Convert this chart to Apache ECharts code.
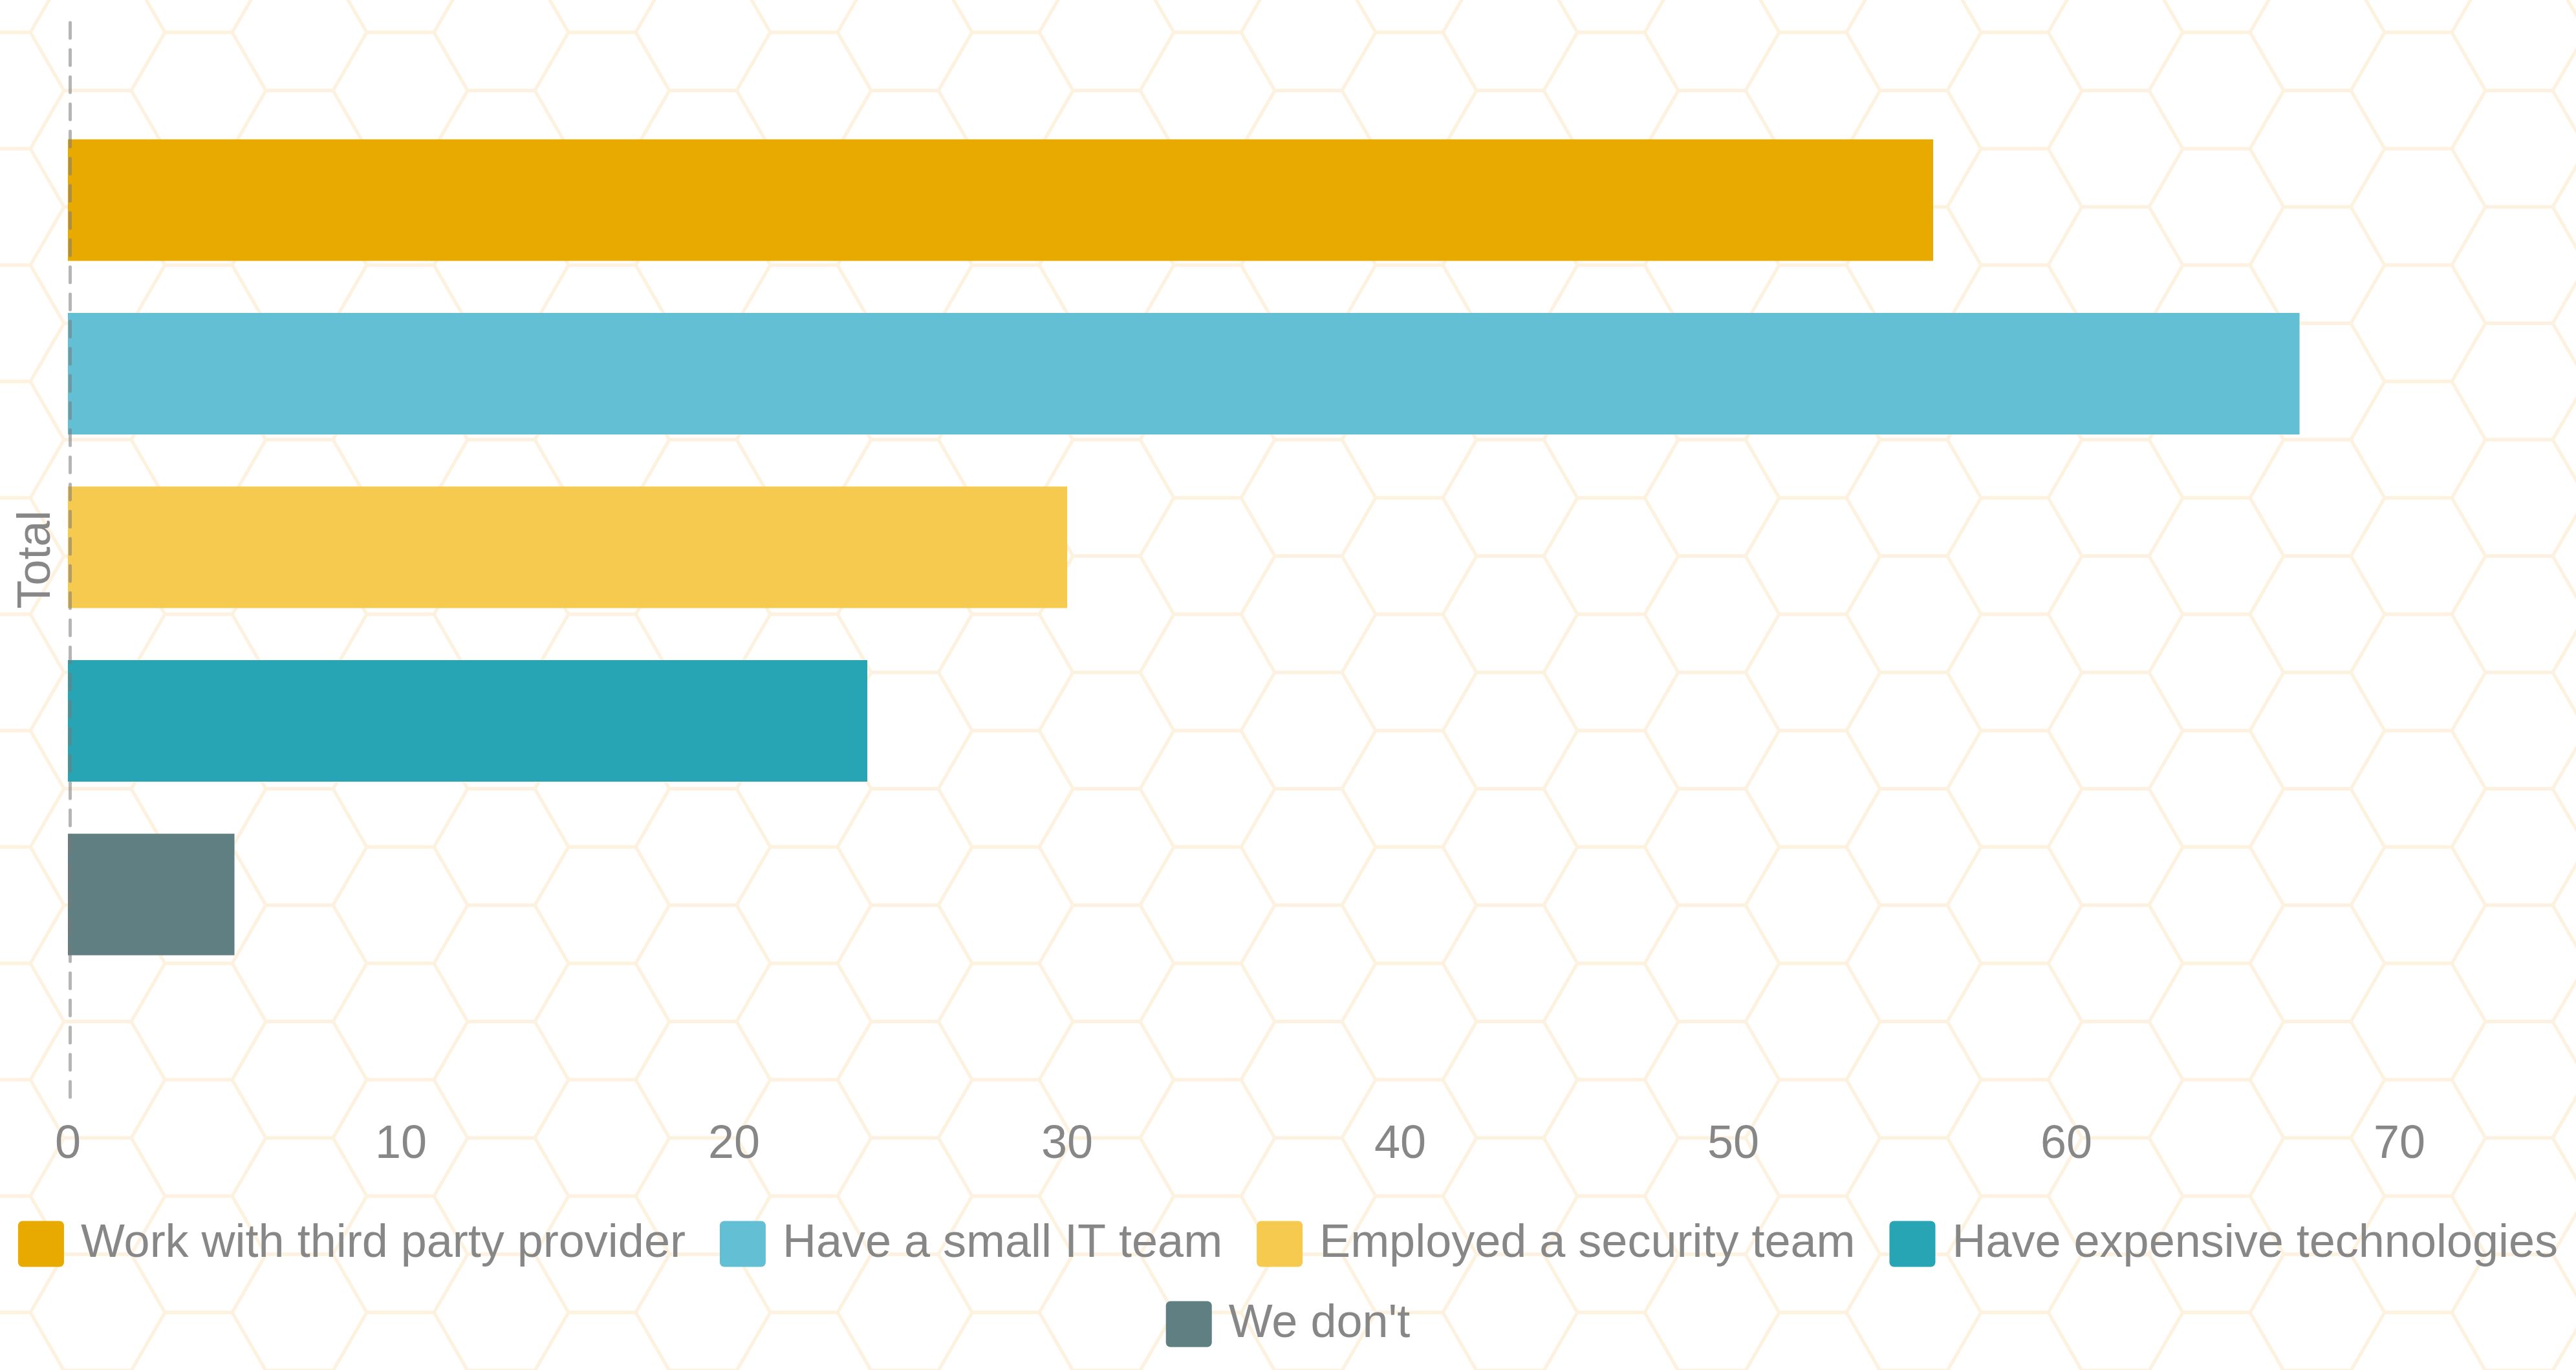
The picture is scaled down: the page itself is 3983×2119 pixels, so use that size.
<!DOCTYPE html>
<html>
<head>
<meta charset="utf-8">
<script src="https://cdn.jsdelivr.net/npm/echarts@6/dist/echarts.min.js"></script>
<style>
html,body{margin:0;padding:0;background:#fff;}
#chart{width:3983px;height:2119px;}
</style>
</head>
<body>
<div id="chart"></div>
<script>
// ---- data ----
const categories = ['Total'];
const seriesNames = [
  'Work with third party provider',
  'Have a small IT team',
  'Employed a security team',
  'Have expensive technologies',
  "We don't"
];
const workWithThirdParty = [56];
const smallITTeam = [67];
const securityTeam = [30];
const expensiveTech = [24];
const weDont = [5];
const seriesValues = [workWithThirdParty, smallITTeam, securityTeam, expensiveTech, weDont];
const xMin = 0;
const xMax = 75.3;
const xInterval = 10;

// ---- styles ----
const colors = ['#E9AA00', '#62BFD4', '#F5CA4E', '#27A5B4', '#5F7F82'];
const textColor = '#878787';
const fontFamily = "'Liberation Sans', Arial, Helvetica, sans-serif";

// hexagon background tile
(function () {
  const tw = 312, th = 180, s = 104, h = 90;
  const c = document.createElement('canvas');
  c.width = tw; c.height = th;
  const g = c.getContext('2d');
  g.fillStyle = '#ffffff';
  g.fillRect(0, 0, tw, th);
  g.strokeStyle = '#FDF2E0';
  g.lineWidth = 5;
  g.lineJoin = 'miter';
  const bases = [[307, 140], [151, 50]];
  bases.forEach(function (b) {
    for (let i = -1; i <= 1; i++) {
      for (let j = -1; j <= 1; j++) {
        const cx = b[0] + i * tw, cy = b[1] + j * th;
        g.beginPath();
        g.moveTo(cx - s, cy);
        g.lineTo(cx - s / 2, cy - h);
        g.lineTo(cx + s / 2, cy - h);
        g.lineTo(cx + s, cy);
        g.lineTo(cx + s / 2, cy + h);
        g.lineTo(cx - s / 2, cy + h);
        g.closePath();
        g.stroke();
      }
    }
  });
  document.getElementById('chart').style.background = '#fff url(' + c.toDataURL() + ') repeat 0 0';
})();

const chart = echarts.init(document.getElementById('chart'), null, { renderer: 'canvas' });

const legendIcon = 'path://M3,0H27A3,3,0,0,1,30,3V27A3,3,0,0,1,27,30H3A3,3,0,0,1,0,27V3A3,3,0,0,1,3,0Z';
const legendBase = {
  left: 'center',
  padding: 0,
  itemGap: 53,
  itemWidth: 71,
  itemHeight: 71,
  icon: legendIcon,
  textStyle: { fontSize: 72, color: textColor, fontFamily: fontFamily, padding: [0, 0, 0, 21], lineHeight: 71 }
};

const option = {
  backgroundColor: 'transparent',
  animation: false,
  textStyle: { fontFamily: fontFamily },
  grid: [
    { left: 105, right: 0, top: 34, height: 1663, containLabel: false },
    { left: 105, right: 0, top: 0, height: 1693, containLabel: false }
  ],
  xAxis: [
    {
      gridIndex: 0, type: 'value', min: xMin, max: xMax, interval: xInterval,
      axisLine: { show: false }, axisTick: { show: false }, splitLine: { show: false },
      axisLabel: { show: true, showMaxLabel: false, margin: 38, fontSize: 72, color: textColor, fontFamily: fontFamily }
    },
    {
      gridIndex: 1, type: 'value', min: xMin, max: xMax, interval: xInterval, show: false,
      splitLine: { show: false }
    }
  ],
  yAxis: [
    {
      gridIndex: 0, type: 'category', data: categories, z: 10, offset: -3,
      axisLine: { show: true, lineStyle: { color: 'rgba(120,120,120,0.55)', width: 5, type: [24, 18] } },
      axisTick: { show: false },
      splitLine: { show: false },
      axisLabel: { show: true, rotate: 90, margin: 15, fontSize: 72, color: textColor, fontFamily: fontFamily }
    },
    {
      gridIndex: 1, type: 'category', data: categories, inverse: true, show: false
    }
  ],
  legend: [
    Object.assign({}, legendBase, { top: 1888, data: seriesNames.slice(0, 4) }),
    Object.assign({}, legendBase, { top: 2012, data: seriesNames.slice(4) })
  ],
  series: seriesNames.map(function (name, i) {
    return {
      name: name,
      type: 'bar',
      xAxisIndex: 1,
      yAxisIndex: 1,
      barWidth: 188,
      barGap: '42.8%',
      itemStyle: { color: colors[i] },
      data: seriesValues[i]
    };
  })
};

chart.setOption(option);
</script>
</body>
</html>
